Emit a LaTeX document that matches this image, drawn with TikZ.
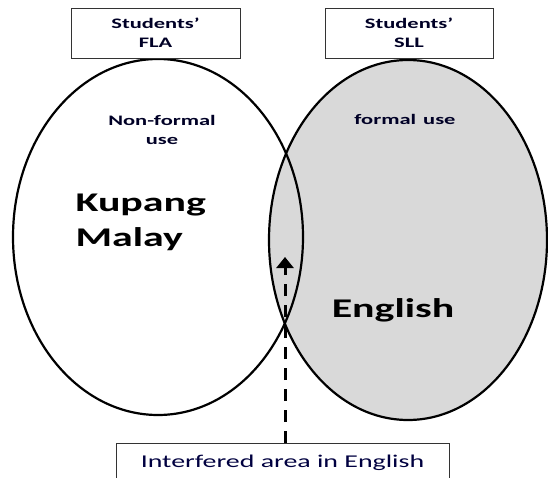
\documentclass[tikz,border=0pt]{standalone}
\usepackage{fontspec}
\setmainfont{Carlito}
\newfontfamily\widefont[FakeStretch=1.55]{Carlito}
\usetikzlibrary{arrows.meta}
\begin{document}
\begin{tikzpicture}[x=1pt,y=-1pt,
  lbl/.style={draw=black!80,line width=0.9pt,fill=white,inner sep=0pt},
  sm/.style={font=\widefont\bfseries\fontsize{14.5}{19}\selectfont,align=center,text=black!85!blue},
  big/.style={font=\widefont\bfseries\fontsize{27}{35}\selectfont,align=left},
  ell/.style={line width=2.2pt}]
\useasboundingbox (0,0) rectangle (548,478);
\clip (0,0) rectangle (548,478);
% ellipses
\fill[white] (158,237) ellipse [x radius=145,y radius=178];
\fill[black!15] (408,240) ellipse [x radius=139,y radius=180];
\draw[ell] (158,237) ellipse [x radius=145,y radius=178];
\draw[ell] (408,240) ellipse [x radius=139,y radius=180];
% top boxes
\node[lbl,minimum width=169pt,minimum height=50pt,sm] (fla) at (155.5,33) {Students’\\FLA};
\node[lbl,minimum width=168pt,minimum height=50pt,sm] (sll) at (409,33) {Students’\\SLL};
% texts
\node[sm] (nf) at (162,130) {Non-formal\\use};
\node[sm] (fu) at (405,119) {formal\hspace{7pt}use};
\node[big,anchor=west] (km) at (72,222) {Kupang\\Malay};
\node[big] (en) at (393,310) {English};
% bottom box
\node[lbl,minimum width=333pt,minimum height=50pt,anchor=north] (ia) at (282.5,443) {};
\node[font=\widefont\fontsize{18}{21}\selectfont,text=black!75!blue] (iat) at (282.5,463) {Interfered area in English};
\coordinate (tip) at (285,257);
\draw[line width=3pt,dash pattern=on 12pt off 9pt,-{Triangle[length=11pt,width=17pt]}] (ia.north -| tip) -- (tip);
\end{tikzpicture}
\end{document}
